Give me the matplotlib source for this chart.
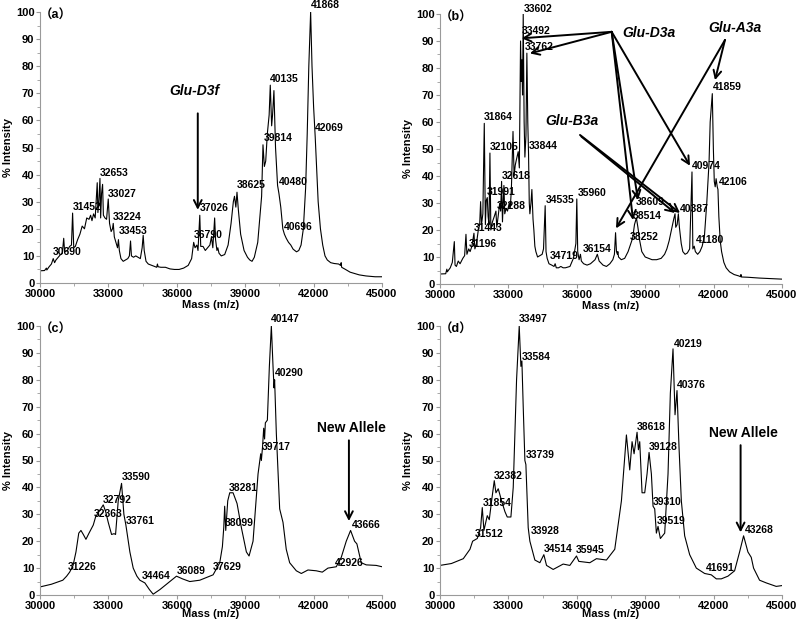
import matplotlib
matplotlib.use("Agg")
import matplotlib.pyplot as plt
from matplotlib.ticker import MultipleLocator

plt.rcParams['font.family'] = ['Liberation Sans', 'Noto Sans CJK SC', 'DejaVu Sans']

# ---------------- data (mass, % intensity) ----------------
spec_a = [
    (30000, 4.5), (30200, 4.6), (30280, 5.5), (30300, 4.8), (30400, 6), (30500, 7), (30580, 9), (30640, 7.5),
    (30700, 8.5), (30800, 9.5), (30900, 10.5), (30980, 11), (31040, 16.5), (31080, 11.5), (31200, 12),
    (31300, 13.5), (31380, 14), (31430, 25.8), (31480, 13), (31550, 13.5), (31650, 16), (31750, 18),
    (31850, 21), (31950, 20), (32050, 24), (32150, 23.5), (32220, 25), (32280, 23), (32350, 25.5),
    (32420, 24), (32480, 33), (32510, 37), (32540, 26), (32580, 30), (32630, 38.6), (32660, 24),
    (32700, 33), (32745, 36.4), (32780, 25), (32850, 24), (32920, 23.5), (32993, 31), (33050, 22),
    (33120, 19), (33180, 20), (33212, 22), (33260, 17), (33330, 15), (33400, 13), (33440, 16), (33480, 12),
    (33550, 9), (33650, 8), (33750, 8.5), (33850, 9), (33920, 10), (33971, 15.5), (34010, 10), (34100, 9.5),
    (34200, 10), (34300, 9.5), (34400, 9), (34480, 13), (34526, 17.6), (34570, 12), (34650, 8), (34750, 7),
    (34900, 6.5), (35050, 6), (35120, 5.8), (35150, 7), (35180, 6), (35300, 5.8), (35500, 5.8), (35700, 5.2),
    (35900, 5), (36100, 5), (36300, 5.5), (36500, 6.5), (36650, 9), (36740, 15), (36800, 13), (36880, 14),
    (36930, 12), (37008, 25), (37050, 13.5), (37150, 13.5), (37250, 12), (37350, 13), (37450, 14),
    (37520, 17), (37580, 13), (37660, 24), (37700, 16), (37760, 12), (37800, 13), (37850, 11), (37950, 10),
    (38100, 10.5), (38250, 14), (38380, 22), (38480, 30), (38530, 32), (38590, 28), (38640, 33.5),
    (38700, 27), (38800, 18), (38950, 12), (39100, 9.5), (39200, 8.5), (39300, 8), (39400, 9.5),
    (39550, 15), (39650, 25), (39720, 32), (39780, 51), (39840, 43), (39900, 45), (39970, 55), (40050, 62),
    (40100, 73), (40160, 58), (40200, 62), (40260, 71), (40330, 50), (40420, 36), (40480, 33), (40560, 28),
    (40650, 20), (40720, 18), (40800, 16.5), (40900, 15), (41000, 14), (41100, 12.5), (41250, 11.5),
    (41350, 12), (41450, 14), (41550, 20), (41650, 35), (41720, 55), (41790, 80), (41870, 100),
    (41930, 80), (42000, 65), (42050, 57), (42070, 54), (42120, 45), (42200, 30), (42300, 20), (42400, 14),
    (42500, 10), (42600, 8.5), (42750, 7.5), (42900, 7.2), (43100, 7), (43180, 6.5), (43210, 7.5),
    (43230, 5.8), (43400, 5), (43600, 4), (43800, 3.5), (44000, 3), (44300, 2.6), (44700, 2.3), (45000, 2.3),
]

spec_b = [
    (30000, 3.7), (30250, 3.8), (30300, 5.5), (30320, 4.5), (30450, 6), (30540, 8), (30628, 15.7),
    (30660, 7), (30720, 6.5), (30800, 8.5), (30880, 7.5), (31000, 9.5), (31080, 10.5), (31139, 18.4),
    (31180, 11), (31260, 13), (31320, 12), (31400, 14), (31489, 18.8), (31530, 13), (31600, 15),
    (31680, 20), (31740, 22), (31781, 30.5), (31820, 22), (31880, 26), (31942, 59.5), (31990, 22),
    (32030, 31), (32074, 32), (32110, 25), (32150, 22), (32190, 48.5), (32230, 20), (32300, 23),
    (32380, 25), (32453, 27), (32490, 21), (32550, 25), (32620, 30), (32660, 27), (32701, 38), (32740, 23),
    (32803, 36.5), (32840, 26), (32900, 28), (32960, 27), (33037, 30), (33080, 28), (33130, 35),
    (33202, 56.5), (33250, 40), (33300, 44), (33350, 46), (33430, 49), (33480, 43), (33533, 90),
    (33565, 75), (33590, 83), (33620, 70), (33650, 100), (33690, 60), (33723, 47), (33770, 55),
    (33810, 85.5), (33850, 60), (33884, 48), (33915, 30), (33942, 26), (33990, 30), (34030, 35),
    (34080, 24), (34117, 20), (34160, 14), (34205, 12), (34280, 10), (34380, 10.5), (34480, 11),
    (34540, 13), (34613, 29), (34650, 12), (34700, 9.5), (34780, 7.5), (34900, 7), (35000, 6.5),
    (35050, 7.5), (35100, 6), (35200, 6), (35300, 6.5), (35400, 6), (35500, 6), (35700, 6.5), (35850, 9.5),
    (35960, 15), (36000, 31.5), (36040, 12), (36100, 9), (36160, 11), (36200, 8.5), (36300, 7.5),
    (36450, 7), (36600, 7.5), (36800, 9), (36900, 11), (36980, 8.5), (37150, 7), (37300, 6.5), (37450, 7.5),
    (37580, 9), (37650, 11), (37700, 19), (37740, 12), (37780, 11), (37800, 12), (37830, 10), (37950, 9),
    (38100, 9.5), (38250, 12), (38350, 14.5), (38450, 17), (38530, 22), (38614, 24.5), (38680, 21),
    (38760, 16), (38850, 12), (39000, 10), (39150, 9.5), (39300, 9), (39500, 9), (39700, 9.5),
    (39850, 11), (39950, 13), (40050, 16), (40150, 20), (40250, 24), (40308, 26), (40340, 21),
    (40400, 22), (40454, 26), (40500, 21), (40580, 15), (40650, 12), (40750, 11), (40850, 11.5),
    (40950, 13), (41052, 41.5), (41090, 13), (41150, 14), (41200, 12), (41300, 11), (41400, 12),
    (41500, 14), (41600, 18), (41700, 30), (41800, 45), (41850, 60), (41943, 70.5), (41990, 50),
    (42030, 38), (42070, 36), (42110, 39), (42160, 36), (42191, 35), (42230, 25), (42290, 16),
    (42350, 12), (42450, 8), (42550, 6), (42700, 4.5), (42900, 3.5), (43100, 3), (43180, 2.7),
    (43200, 3.5), (43220, 2.6), (43500, 2.5), (44000, 2.2), (44500, 2), (45000, 1.8),
]

spec_c = [
    (30000, 3), (30500, 4), (31000, 5.5), (31168, 7), (31300, 8.5), (31450, 11), (31577, 16),
    (31700, 23), (31796, 24), (31900, 22.5), (32015, 20.7), (32150, 23), (32336, 26), (32438, 29),
    (32550, 30.5), (32774, 33.5), (32880, 31), (32993, 27), (33139, 22.5), (33250, 22.8), (33314, 22.5),
    (33431, 35), (33577, 41.5), (33679, 30), (33767, 26), (33942, 16), (34088, 10), (34250, 7),
    (34380, 5.5), (34599, 4.5), (34800, 2), (34964, 0.3), (35256, 2), (35694, 5), (35986, 7),
    (36250, 6), (36570, 5), (37008, 5.5), (37300, 6.5), (37592, 7.5), (37884, 12), (38000, 18),
    (38059, 25), (38100, 33), (38147, 24), (38234, 35), (38322, 38), (38468, 38), (38643, 34),
    (38833, 25), (39052, 16), (39169, 14.5), (39344, 20), (39563, 45), (39680, 52.5), (39709, 50),
    (39760, 55), (39811, 62), (39850, 58), (39884, 64), (39972, 65), (40060, 85), (40147, 100),
    (40220, 85), (40264, 77), (40290, 80), (40366, 60), (40512, 32), (40658, 27), (40800, 17),
    (40950, 12), (41242, 9), (41461, 8), (41753, 9.3), (42118, 9), (42381, 8.5), (42629, 10),
    (42994, 10.5), (43213, 14), (43432, 20), (43622, 24), (43797, 20), (43899, 19), (44089, 12),
    (44308, 11.2), (44746, 11), (45000, 10.5),
]

spec_d = [
    (30000, 11), (30500, 11.7), (31022, 13.5), (31314, 17), (31431, 20), (31635, 21), (31781, 25),
    (31854, 32.5), (31927, 24), (32073, 29.5), (32161, 28), (32263, 35), (32380, 42.5), (32453, 38),
    (32555, 39.5), (32701, 35), (32847, 31), (32949, 29), (33110, 29), (33212, 40), (33358, 80),
    (33475, 100), (33548, 85), (33592, 87), (33650, 70), (33723, 50), (33767, 48.5), (33869, 25),
    (33942, 20), (34161, 13), (34380, 12), (34555, 15), (34672, 11), (34964, 9.5), (35402, 11.5),
    (35694, 11), (35986, 14.5), (36088, 12.5), (36570, 12), (36862, 13.5), (37300, 13), (37665, 17),
    (37957, 35), (38176, 59.5), (38322, 46.5), (38424, 57), (38512, 52.5), (38643, 60.5), (38702, 54),
    (38760, 57), (38862, 38), (38979, 38), (39081, 45), (39169, 53), (39271, 45), (39344, 33),
    (39417, 32), (39490, 23), (39563, 25.5), (39665, 21), (39855, 23), (40001, 45), (40103, 75),
    (40220, 91.5), (40308, 67), (40395, 76), (40483, 55), (40585, 35), (40731, 22), (40950, 15),
    (41242, 10), (41607, 8), (41899, 7.5), (42118, 6), (42337, 6), (42629, 7), (42921, 9), (43140, 16),
    (43315, 22), (43505, 16), (43651, 14), (43753, 10), (44016, 5.5), (44308, 4.5), (44746, 3.2),
    (45000, 3.5),
]

# peak labels: (text, mass, intensity)
labels_a = [("30690", 30540, 11.5), ("31452", 31431, 28), ("32653", 32628, 40.7), ("33027", 32993, 33),
            ("33224", 33212, 24.2), ("33453", 33475, 19.1), ("37026", 37008, 27.5), ("36790", 36745, 17.6),
            ("38625", 38614, 36), ("39814", 39826, 53.4), ("40135", 40103, 75.3), ("40480", 40483, 37.4),
            ("40696", 40687, 20.7), ("41868", 41870, 102.5), ("42069", 42045, 57.3)]
labels_b = [("33602", 33679, 102), ("33492", 33577, 93.8), ("33762", 33723, 87.9), ("31864", 31927, 61.7),
            ("32105", 32190, 50.9), ("33844", 33898, 51.2), ("32618", 32701, 40), ("31991", 32073, 34.2),
            ("32288", 32482, 28.9), ("31443", 31489, 20.9), ("31196", 31270, 14.8), ("34535", 34628, 31.1),
            ("35960", 36059, 33.6), ("34719", 34818, 10.5), ("36154", 36249, 12.8), ("38252", 38322, 17.5),
            ("38514", 38439, 25.2), ("38609", 38585, 30.5), ("40387", 40512, 27.7), ("40974", 41052, 43.7),
            ("41180", 41242, 16.3), ("42106", 42220, 37.9), ("41859", 41957, 72.8)]
labels_c = [("40147", 40147, 102.7), ("40290", 40308, 82.5), ("39717", 39709, 55), ("38281", 38278, 39.8),
            ("38099", 38103, 26.9), ("33590", 33577, 43.9), ("32792", 32774, 35.5), ("32363", 32380, 30),
            ("33761", 33767, 27.6), ("31226", 31212, 10.3), ("34464", 34482, 7.2), ("36089", 35986, 9),
            ("37629", 37592, 10.3), ("42926", 42921, 12), ("43666", 43680, 25.9)]
labels_d = [("33497", 33475, 102.7), ("33584", 33592, 88.5), ("33739", 33752, 52), ("32382", 32380, 44.3),
            ("31854", 31869, 34.3), ("31512", 31504, 22.5), ("33928", 33971, 23.9), ("34514", 34555, 17),
            ("35945", 35957, 16.7), ("38618", 38643, 62.5), ("39128", 39169, 55), ("39310", 39315, 34.7),
            ("39519", 39519, 27.6), ("40219", 40264, 93.4), ("40376", 40395, 78), ("41691", 41680, 10.1),
            ("43268", 43359, 24.1)]

panel_tags = ["（a）", "（b）", "（c）", "（d）"]
x_ticks = [30000, 33000, 36000, 39000, 42000, 45000]
y_ticks = [0, 10, 20, 30, 40, 50, 60, 70, 80, 90, 100]

# ---------------- figure ----------------
fig = plt.figure(figsize=(8, 6.25), dpi=100)
W, H = 800, 625
def box(x0, x1, ytop, ybot):
    return [x0 / W, 1 - ybot / H, (x1 - x0) / W, (ybot - ytop) / H]

axes = [fig.add_axes(box(40, 382, 12, 283)), fig.add_axes(box(440, 782, 14, 284)),
        fig.add_axes(box(40, 382, 326, 595)), fig.add_axes(box(440, 782, 326, 595))]
specs = [spec_a, spec_b, spec_c, spec_d]
labels = [labels_a, labels_b, labels_c, labels_d]
xlabel_y = [-0.083, -0.08, -0.071, -0.071]

for ax, spec, labs, tag, xly in zip(axes, specs, labels, panel_tags, xlabel_y):
    xs = [p[0] for p in spec]
    ys = [p[1] for p in spec]
    ax.plot(xs, ys, color='black', lw=0.8)
    ax.set_xlim(30000, 45000)
    ax.set_ylim(0, 100)
    ax.set_xticks(x_ticks)
    ax.set_yticks(y_ticks)
    ax.xaxis.set_minor_locator(MultipleLocator(1500))
    ax.yaxis.set_minor_locator(MultipleLocator(5))
    for s in ('top', 'right'):
        ax.spines[s].set_visible(False)
    for s in ('left', 'bottom'):
        ax.spines[s].set_color('#9a9a9a')
        ax.spines[s].set_linewidth(0.8)
    ax.tick_params(which='major', direction='out', length=3, width=0.8, color='#9a9a9a',
                   labelsize=8, pad=1)
    ax.tick_params(which='minor', direction='out', length=2, width=0.6, color='#9a9a9a')
    for t in ax.get_xticklabels() + ax.get_yticklabels():
        t.set_fontweight('bold')
    ax.set_xlabel('Mass (m/z)', fontsize=8, fontweight='bold')
    ax.xaxis.set_label_coords(0.5, xly)
    ax.xaxis.label.set_va('center')
    ax.set_ylabel('% Intensity', fontsize=8, fontweight='bold')
    ax.yaxis.set_label_coords(-0.093, 0.5)
    ax.yaxis.label.set_va('center')
    for text, mx, iy in labs:
        ax.text(mx, iy, text, fontsize=7.5, fontweight='bold', ha='left', va='center', clip_on=False)
    ax.text(30000, 98.5, tag, fontsize=9, fontweight='bold', ha='left', va='center')

def arrow(ax, start, end, lw=1.4):
    ax.annotate('', xy=end, xytext=start,
                arrowprops=dict(arrowstyle='->,head_length=0.55,head_width=0.28', lw=lw,
                                color='black', shrinkA=0, shrinkB=0))

axA, axB, axC, axD = axes
# panel a
axA.text(35665, 71, 'Glu-D3f', fontsize=10, fontweight='bold', style='italic', ha='left', va='center')
arrow(axA, (36920, 62.6), (36920, 27))
# panel b
axB.text(38000, 92.8, 'Glu-D3a', fontsize=10, fontweight='bold', style='italic', ha='left', va='center')
axB.text(41753, 95, 'Glu-A3a', fontsize=10, fontweight='bold', style='italic', ha='left', va='center')
axB.text(34599, 60.5, 'Glu-B3a', fontsize=10, fontweight='bold', style='italic', ha='left', va='center')
hub_d = (37530, 93.4)
for end in [(33869, 100.2), (33577, 91), (33942, 85.4), (40965, 43.8), (38465, 23.7), (38684, 31.1)]:
    arrow(axB, hub_d, end)
hub_a = (42500, 90.4)
for end in [(42061, 75.5), (37719, 20.6)]:
    arrow(axB, hub_a, end)
for start, end in [((36140, 55.2), (40526, 26.3)), ((36200, 54.6), (40307, 26.3))]:
    arrow(axB, start, end)
# panels c and d
axC.text(42147, 61.9, 'New Allele', fontsize=10, fontweight='bold', ha='left', va='center')
arrow(axC, (43549, 57.5), (43549, 27.5))
axD.text(41797, 60.3, 'New Allele', fontsize=10, fontweight='bold', ha='left', va='center')
arrow(axD, (43184, 55.7), (43184, 23.3))

fig.savefig('out.png', dpi=100)
